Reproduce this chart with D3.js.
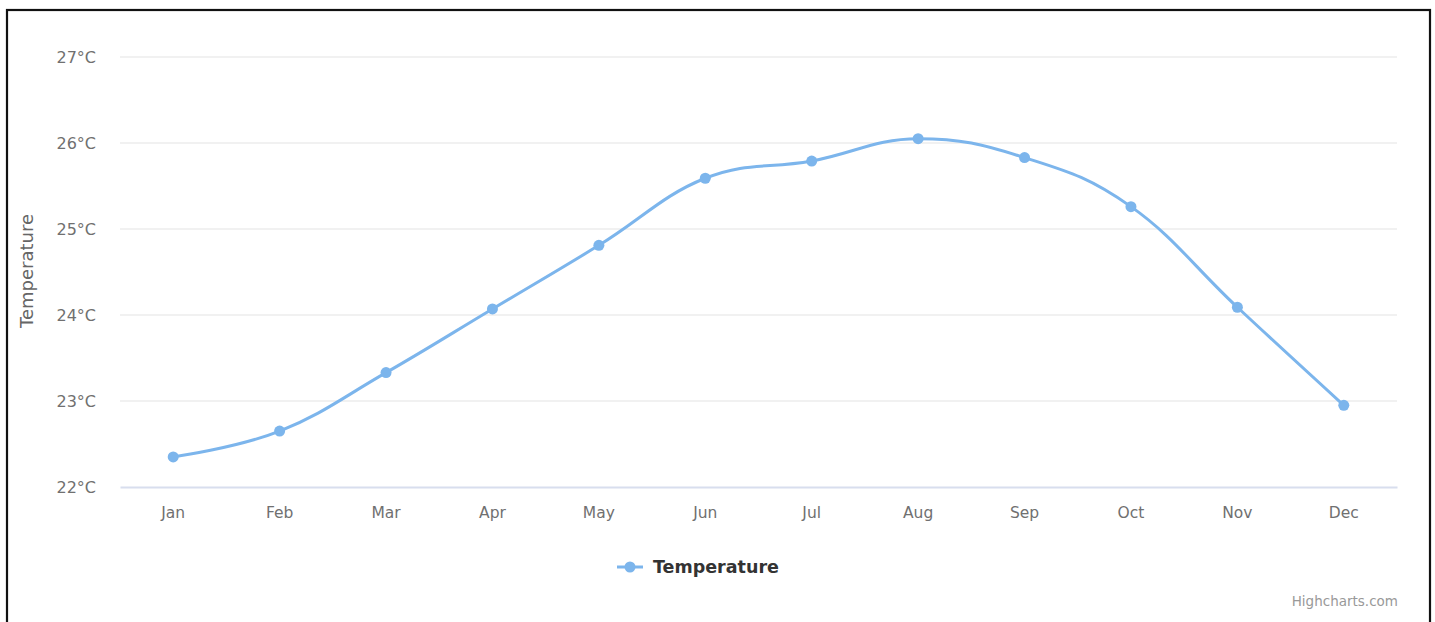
<!DOCTYPE html>
<html><head><meta charset="utf-8">
<script src="https://cdn.jsdelivr.net/npm/d3@7"></script>
<style>
html,body{margin:0;padding:0;background:#fff;}
svg{display:block;}
</style></head>
<body>
<script>
const months = ["Jan","Feb","Mar","Apr","May","Jun","Jul","Aug","Sep","Oct","Nov","Dec"];
const temperature = [22.35,22.65,23.33,24.07,24.81,25.59,25.79,26.05,25.83,25.26,24.09,22.95];
const yTicks = [22,23,24,25,26,27];
const seriesName = "Temperature";
const axisTitle = "Temperature";
const creditText = "Highcharts.com";

const W = 1435, H = 622;
const FONT = "'DejaVu Sans', Verdana, sans-serif";
const svg = d3.select("body").append("svg").attr("width", W).attr("height", H);

svg.append("rect").attr("x",7).attr("y",10).attr("width",1423).attr("height",640)
  .attr("fill","#fff").attr("stroke","#111").attr("stroke-width",2.2);

const plot = {left:120, right:1397, top:57, bottom:487};
const x = d3.scaleBand().domain(months).range([plot.left, plot.right]);
const y = d3.scaleLinear().domain([22,27]).range([plot.bottom, plot.top]);

// gridlines
svg.append("g").selectAll("line").data(yTicks.filter(t=>t!==22)).join("line")
  .attr("x1",plot.left).attr("x2",plot.right)
  .attr("y1",d=>y(d)).attr("y2",d=>y(d))
  .attr("stroke","#ececec").attr("stroke-width",1.5);

// y axis labels
const yAxis = d3.axisLeft(y).tickValues(yTicks).tickSize(0).tickPadding(0).tickFormat(d=>d+"°C");
const gy = svg.append("g").attr("transform",`translate(96,0)`).call(yAxis);
gy.select(".domain").remove();
gy.selectAll("text").attr("fill","#707070").attr("font-family",FONT).attr("font-size",16).attr("dy","0.36em");

// x axis
const xAxis = d3.axisBottom(x).tickSize(0).tickPadding(0);
const gx = svg.append("g").attr("transform",`translate(0,${plot.bottom})`).call(xAxis);
gx.select(".domain").attr("stroke","#d8deee").attr("stroke-width",2);
gx.selectAll("text").attr("fill","#707070").attr("font-family",FONT).attr("font-size",15.5).attr("dy","0").attr("y",31);

// y axis title
svg.append("text").attr("transform","translate(33,271) rotate(-90)")
  .attr("text-anchor","middle").attr("fill","#666").attr("font-family",FONT).attr("font-size",18)
  .text(axisTitle);

// Highcharts-like spline
const pts = temperature.map((v,i)=>({x:x(months[i])+x.bandwidth()/2, y:y(v)}));
function splinePath(points){
  const p = d3.path();
  const smoothing = 1.5, denom = 2.5;
  let prevRight = null;
  points.forEach((pt,i)=>{
    if(i===0){ p.moveTo(pt.x, pt.y); return; }
    const last = points[i-1], next = points[i+1];
    let lcx = pt.x, lcy = pt.y, rc = null;
    if(next){
      lcx = (smoothing*pt.x + last.x)/denom; lcy = (smoothing*pt.y + last.y)/denom;
      let rcx = (smoothing*pt.x + next.x)/denom, rcy = (smoothing*pt.y + next.y)/denom;
      const corr = ((rcy-lcy)*(rcx-pt.x))/(rcx-lcx) + pt.y - rcy;
      lcy += corr; rcy += corr;
      if(lcy > last.y && lcy > pt.y){ lcy = Math.max(last.y,pt.y); rcy = 2*pt.y-lcy; }
      else if(lcy < last.y && lcy < pt.y){ lcy = Math.min(last.y,pt.y); rcy = 2*pt.y-lcy; }
      if(rcy > next.y && rcy > pt.y){ rcy = Math.max(next.y,pt.y); lcy = 2*pt.y-rcy; }
      else if(rcy < next.y && rcy < pt.y){ rcy = Math.min(next.y,pt.y); lcy = 2*pt.y-rcy; }
      rc = {x:rcx,y:rcy};
    }
    const s = prevRight || last;
    p.bezierCurveTo(s.x, s.y, lcx, lcy, pt.x, pt.y);
    prevRight = rc;
  });
  return p.toString();
}
svg.append("path").attr("d",splinePath(pts)).attr("fill","none")
  .attr("stroke","#7cb5ec").attr("stroke-width",3).attr("stroke-linejoin","round").attr("stroke-linecap","round");

svg.append("g").selectAll("circle").data(temperature).join("circle")
  .attr("cx",(d,i)=>x(months[i])+x.bandwidth()/2).attr("cy",d=>y(d)).attr("r",5.5)
  .attr("fill","#7cb5ec");

// legend
const lg = svg.append("g");
lg.append("line").attr("x1",617).attr("x2",643).attr("y1",567).attr("y2",567).attr("stroke","#7cb5ec").attr("stroke-width",3);
lg.append("circle").attr("cx",630).attr("cy",567).attr("r",5.5).attr("fill","#7cb5ec");
lg.append("text").attr("x",653).attr("y",573).attr("fill","#333").attr("font-family",FONT)
  .attr("font-weight","bold").attr("font-size",17.5).text(seriesName);

// credits
svg.append("text").attr("x",1398).attr("y",606).attr("text-anchor","end").attr("fill","#999")
  .attr("font-family",FONT).attr("font-size",13.5).text(creditText);
</script>
</body></html>
